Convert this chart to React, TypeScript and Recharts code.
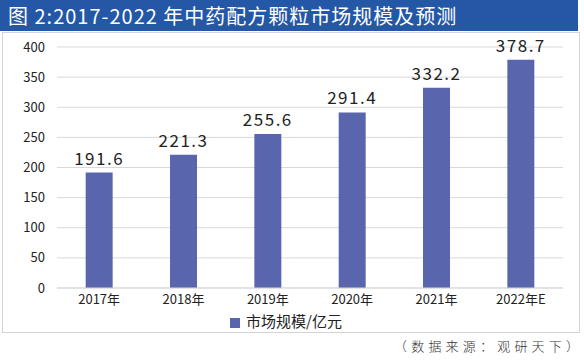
import { BarChart, Bar, XAxis, YAxis, CartesianGrid, Legend, LabelList } from 'recharts'

// 年份 / 市场规模（亿元）
const years = ['2017年', '2018年', '2019年', '2020年', '2021年', '2022年E']
const marketSize = [191.6, 221.3, 255.6, 291.4, 332.2, 378.7]
const yTicks = [0, 50, 100, 150, 200, 250, 300, 350, 400]

const title = '图 2:2017-2022 年中药配方颗粒市场规模及预测'
const seriesName = '市场规模/亿元'
const sourceNote = '（数据来源：观研天下）'

const BAR_COLOR = '#5966ad'
const FONT = '"Noto Sans CJK SC", "Noto Sans", sans-serif'

const chartData = years.map((y, i) => ({ year: y, value: marketSize[i] }))

export default function App() {
  return (
    <div style={{ position: 'absolute', left: 0, top: 0, width: 584, height: 362, background: '#fff', fontFamily: FONT }}>
      <div
        style={{
          position: 'absolute', left: 0, top: 0, width: 578, height: 31,
          background: '#2457a5', color: '#fff', fontSize: 20, lineHeight: '31px',
          paddingLeft: 8, boxSizing: 'border-box', letterSpacing: 1,
        }}
      >
        {title}
      </div>

      <div
        style={{
          position: 'absolute', left: 2, top: 32, width: 578, height: 301,
          border: '1px solid #d4d4d4', boxSizing: 'border-box',
        }}
      >
        <BarChart
          width={576}
          height={299}
          data={chartData}
          margin={{ top: 14, right: 16, left: 0, bottom: 14 }}
          barCategoryGap="34%"
        >
          <CartesianGrid vertical={false} stroke="#d9d9d9" />
          <XAxis
            dataKey="year"
            axisLine={{ stroke: '#d9d9d9' }}
            tickLine={false}
            tickSize={0}
            tickMargin={7}
            interval={0}
            tick={{ fill: '#222', fontSize: 13, fontFamily: FONT }}
          />
          <YAxis
            domain={[0, 400]}
            ticks={yTicks}
            width={54}
            axisLine={false}
            tickLine={false}
            tickSize={0}
            tickMargin={12}
            tick={{ fill: '#222', fontSize: 13, fontFamily: FONT }}
          />
          <Legend
            verticalAlign="middle"
            align="center"
            layout="horizontal"
            iconType="square"
            iconSize={10}
            wrapperStyle={{ top: 277, left: 8, fontSize: 15, fontFamily: FONT }}
            formatter={(v: string) => <span style={{ color: '#222', marginLeft: 2 }}>{v}</span>}
          />
          <Bar dataKey="value" name={seriesName} fill={BAR_COLOR} isAnimationActive={false}>
            <LabelList
              dataKey="value"
              position="top"
              offset={8}
              formatter={(v: number) => v.toFixed(1)}
              style={{ fill: '#222', fontSize: 17, fontFamily: FONT, letterSpacing: 1.5 }}
            />
          </Bar>
        </BarChart>
      </div>

      <div
        style={{
          position: 'absolute', left: 394, top: 336, fontSize: 13, color: '#333',
          letterSpacing: 4.2, lineHeight: '20px', fontWeight: 300,
        }}
      >
        {sourceNote}
      </div>
    </div>
  )
}
